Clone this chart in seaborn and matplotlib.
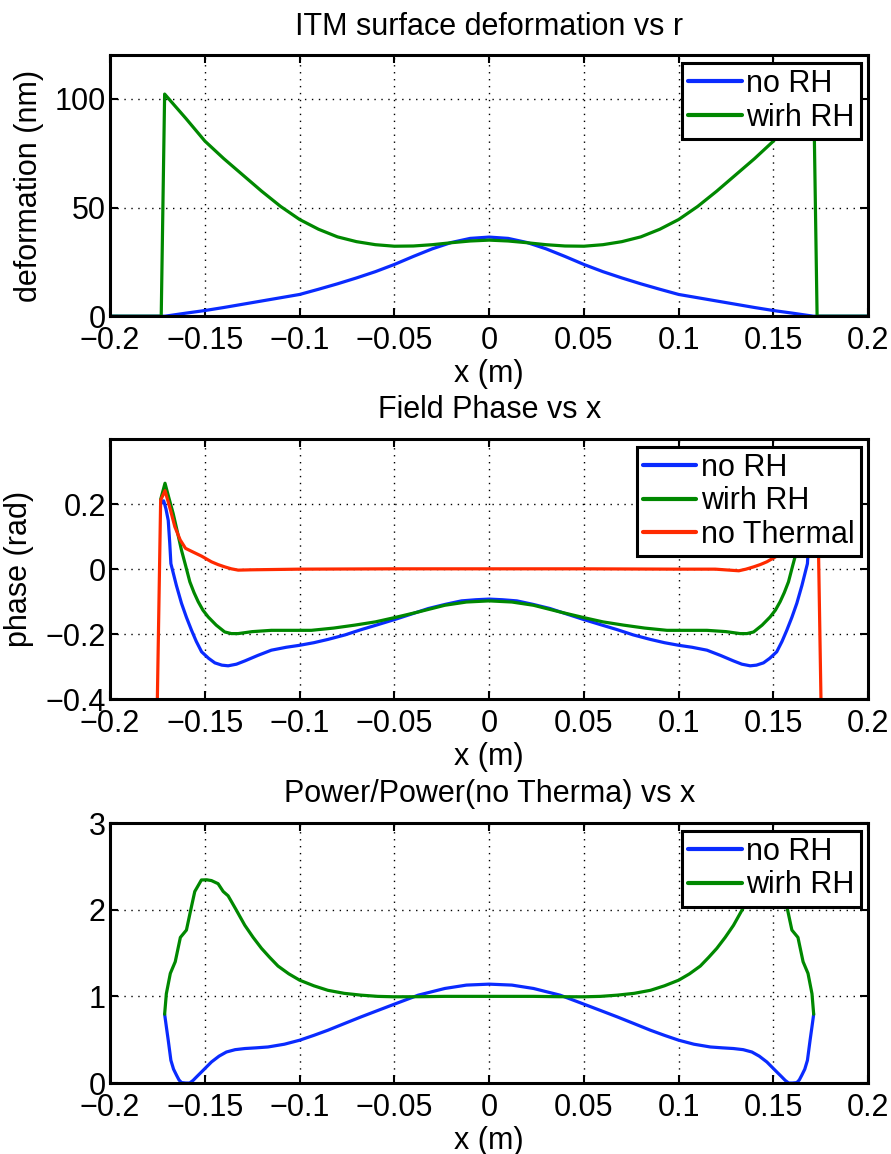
import numpy as np
import pandas as pd
import matplotlib
matplotlib.use("Agg")
import matplotlib.pyplot as plt
import seaborn as sns

# ---- data (x in m) ----
# panel 1: ITM surface deformation (nm)
def_norh_x = [-0.2, -0.171, -0.16, -0.15, -0.14, -0.13, -0.12, -0.11, -0.1, -0.09, -0.08, -0.07,
              -0.06, -0.05, -0.04, -0.03, -0.02, -0.01, 0.0,
              0.01, 0.02, 0.03, 0.04, 0.05, 0.06, 0.07, 0.08, 0.09, 0.1, 0.11, 0.12,
              0.13, 0.14, 0.15, 0.16, 0.171, 0.2]
def_norh_y = [0.0, 0.0, 1.4, 2.6, 4.0, 5.5, 7.0, 8.5, 10.0, 12.4, 14.9, 17.6,
              20.5, 23.8, 27.5, 31.0, 33.9, 35.8, 36.4,
              35.8, 33.9, 31.0, 27.5, 23.8, 20.5, 17.6, 14.9, 12.4, 10.0, 8.5, 7.0,
              5.5, 4.0, 2.6, 1.4, 0.0, 0.0]
def_rh_x = [-0.2, -0.173, -0.1712, -0.16, -0.15, -0.14, -0.13, -0.12, -0.11, -0.1, -0.09, -0.08,
            -0.07, -0.06, -0.05, -0.04, -0.03, -0.02, -0.01, 0.0,
            0.01, 0.02, 0.03, 0.04, 0.05, 0.06, 0.07, 0.08, 0.09, 0.1, 0.11, 0.12,
            0.13, 0.14, 0.15, 0.16, 0.1712, 0.173, 0.2]
def_rh_y = [0.0, 0.0, 102.2, 91.0, 80.6, 72.5, 65.0, 57.5, 50.5, 44.5, 40.0, 36.5,
            34.3, 32.9, 32.2, 32.3, 32.9, 33.8, 34.6, 35.0,
            34.6, 33.8, 32.9, 32.3, 32.2, 32.9, 34.3, 36.5, 40.0, 44.5, 50.5, 57.5,
            65.0, 72.5, 80.6, 91.0, 102.2, 0.0, 0.0]

# panel 2: field phase (rad)
ph_norh_x = [-0.1733, -0.1717, -0.1705, -0.1693, -0.1685, -0.1679, -0.165, -0.1623, -0.1597, -0.157,
             -0.1545, -0.1517, -0.148, -0.1447, -0.141, -0.1377, -0.1333, -0.1289, -0.122, -0.1149,
             -0.107, -0.1, -0.0925, -0.0851, -0.076, -0.0676, -0.059, -0.05, -0.041, -0.0321,
             -0.023, -0.0146, -0.007, 0.0,
             0.007, 0.0146, 0.023, 0.0321, 0.041, 0.05, 0.059, 0.0676, 0.076, 0.0851,
             0.0925, 0.1, 0.107, 0.1149, 0.122, 0.1289, 0.1333, 0.1377, 0.141, 0.1447,
             0.148, 0.1517, 0.1545, 0.157, 0.1597, 0.1623, 0.165, 0.1679, 0.1685, 0.1693,
             0.1705, 0.1717, 0.1733]
ph_norh_y = [0.2, 0.21, 0.185, 0.15, 0.08, 0.017, -0.05, -0.105, -0.148, -0.188,
             -0.222, -0.254, -0.274, -0.288, -0.295, -0.297, -0.292, -0.282, -0.265, -0.249,
             -0.24, -0.234, -0.226, -0.216, -0.202, -0.186, -0.171, -0.155, -0.138, -0.121,
             -0.108, -0.0975, -0.094, -0.092,
             -0.094, -0.0975, -0.108, -0.121, -0.138, -0.155, -0.171, -0.186, -0.202, -0.216,
             -0.226, -0.234, -0.24, -0.249, -0.265, -0.282, -0.292, -0.297, -0.295, -0.288,
             -0.274, -0.254, -0.222, -0.188, -0.148, -0.105, -0.05, 0.017, 0.08, 0.15,
             0.185, 0.21, 0.2]
ph_rh_x = [-0.1733, -0.171, -0.169, -0.1667, -0.1645, -0.1623, -0.16, -0.1579, -0.1557, -0.1535,
           -0.151, -0.1482, -0.144, -0.1395, -0.136, -0.1324, -0.125, -0.1149, -0.105, -0.0938,
           -0.082, -0.0709, -0.06, -0.05, -0.037, -0.0234, -0.012, 0.0,
           0.012, 0.0234, 0.037, 0.05, 0.06, 0.0709, 0.082, 0.0938, 0.105, 0.1149,
           0.125, 0.1324, 0.136, 0.1395, 0.144, 0.1482, 0.151, 0.1535, 0.1557, 0.1579,
           0.16, 0.1623, 0.1645, 0.1667, 0.169, 0.171, 0.1733]
ph_rh_y = [0.214, 0.264, 0.22, 0.171, 0.115, 0.058, 0.008, -0.039, -0.072, -0.1,
           -0.126, -0.147, -0.172, -0.193, -0.198, -0.198, -0.192, -0.188, -0.188, -0.188,
           -0.181, -0.172, -0.162, -0.149, -0.131, -0.111, -0.101, -0.0975,
           -0.101, -0.111, -0.131, -0.149, -0.162, -0.172, -0.181, -0.188, -0.188, -0.188,
           -0.192, -0.198, -0.198, -0.193, -0.172, -0.147, -0.126, -0.1, -0.072, -0.039,
           0.008, 0.058, 0.115, 0.171, 0.22, 0.264, 0.214]
ph_noth_x = [-0.1751, -0.1733, -0.171, -0.1685, -0.1658, -0.163, -0.1602, -0.156, -0.1517, -0.1465,
             -0.143, -0.1395, -0.136, -0.1324, -0.1254, -0.1, -0.05, 0.0,
             0.05, 0.1, 0.1193, 0.1317, 0.1355, 0.1395, 0.143, 0.1465, 0.1517, 0.156,
             0.1602, 0.163, 0.1658, 0.1685, 0.171, 0.1733, 0.1751]
ph_noth_y = [-0.42, 0.212, 0.241, 0.19, 0.13, 0.09, 0.064, 0.052, 0.04, 0.0226,
             0.014, 0.007, 0.001, -0.003, -0.002, 0.0, 0.001, 0.001,
             0.001, 0.0, 0.0, -0.005, 0.0, 0.007, 0.014, 0.0226, 0.04, 0.052,
             0.064, 0.09, 0.13, 0.19, 0.241, 0.212, -0.42]

# panel 3: power ratio
pw_norh_x = [-0.1712, -0.1703, -0.1693, -0.1679, -0.1665, -0.1649, -0.1636, -0.1623, -0.16, -0.158,
             -0.1562, -0.1544, -0.1505, -0.1465, -0.1425, -0.1386, -0.134, -0.1289, -0.123, -0.1167,
             -0.108, -0.1, -0.0925, -0.0851, -0.0765, -0.0676, -0.059, -0.05, -0.0374, -0.0234,
             -0.012, 0.0,
             0.012, 0.0234, 0.0374, 0.05, 0.059, 0.0676, 0.0765, 0.0851, 0.0925, 0.1,
             0.108, 0.1167, 0.123, 0.1289, 0.134, 0.1386, 0.1425, 0.1465, 0.1505, 0.1544,
             0.1562, 0.158, 0.16, 0.1623, 0.1636, 0.1649, 0.1665, 0.1679, 0.1693, 0.1703, 0.1712]
pw_norh_y = [0.794, 0.65, 0.494, 0.262, 0.16, 0.089, 0.035, 0.005, 0.0, 0.0,
             0.03, 0.07, 0.155, 0.243, 0.31, 0.358, 0.385, 0.398, 0.406, 0.416,
             0.448, 0.494, 0.55, 0.609, 0.685, 0.763, 0.835, 0.91, 1.014, 1.091,
             1.13, 1.141,
             1.13, 1.091, 1.014, 0.91, 0.835, 0.763, 0.685, 0.609, 0.55, 0.494,
             0.448, 0.416, 0.406, 0.398, 0.385, 0.358, 0.31, 0.243, 0.155, 0.07,
             0.03, 0.0, 0.0, 0.005, 0.035, 0.089, 0.16, 0.262, 0.494, 0.65, 0.794]
pw_rh_x = [-0.1712, -0.1703, -0.1682, -0.1656, -0.1629, -0.1597, -0.1575, -0.1553, -0.1518, -0.149,
           -0.1465, -0.143, -0.1403, -0.1377, -0.1335, -0.1289, -0.1245, -0.1201, -0.1158, -0.1114,
           -0.1057, -0.1, -0.0925, -0.0851, -0.0765, -0.0676, -0.0588, -0.05, -0.037, -0.0234, 0.0,
           0.0234, 0.037, 0.05, 0.0588, 0.0676, 0.0765, 0.0851, 0.0925, 0.1, 0.1057,
           0.1114, 0.1158, 0.1201, 0.1245, 0.1289, 0.1335, 0.1377, 0.1403, 0.143, 0.1465,
           0.149, 0.1518, 0.1553, 0.1575, 0.1597, 0.1629, 0.1656, 0.1682, 0.1703, 0.1712]
pw_rh_y = [0.794, 1.03, 1.265, 1.4, 1.68, 1.765, 1.99, 2.21, 2.343, 2.345,
           2.336, 2.3, 2.21, 2.16, 2.0, 1.82, 1.68, 1.554, 1.45, 1.35,
           1.26, 1.187, 1.122, 1.07, 1.035, 1.014, 1.0, 0.995, 0.996, 1.0, 1.0,
           1.0, 0.996, 0.995, 1.0, 1.014, 1.035, 1.07, 1.122, 1.187, 1.26,
           1.35, 1.45, 1.554, 1.68, 1.82, 2.0, 2.16, 2.21, 2.3, 2.336,
           2.345, 2.343, 2.21, 1.99, 1.765, 1.68, 1.4, 1.265, 1.03, 0.794]

x_ticks = [-0.2, -0.15, -0.1, -0.05, 0, 0.05, 0.1, 0.15, 0.2]
x_tick_labels = ["\u22120.2", "\u22120.15", "\u22120.1", "\u22120.05", "0", "0.05", "0.1", "0.15", "0.2"]
def_ticks = [0, 50, 100]
ph_ticks = [-0.4, -0.2, 0, 0.2]
ph_tick_labels = ["\u22120.4", "\u22120.2", "0", "0.2"]
pw_ticks = [0, 1, 2, 3]

BLUE = "#0a2bff"
GREEN = "#008800"
RED = "#ff2a00"

sns.set_theme(style="white")
plt.rcParams["font.family"] = ["Liberation Sans", "DejaVu Sans"]
plt.rcParams["text.color"] = "black"
plt.rcParams["axes.labelcolor"] = "black"

FS = 22
fig = plt.figure(figsize=(8.91, 11.54), dpi=100)
fig.patch.set_facecolor("white")


def style_axes(ax, yticks, ylabels, ylim, title, ylabel=None):
    ax.set_xlim(-0.2, 0.2)
    ax.set_ylim(*ylim)
    ax.set_xticks(x_ticks)
    ax.set_xticklabels(x_tick_labels)
    ax.set_yticks(yticks)
    ax.set_yticklabels(ylabels)
    ax.tick_params(axis="both", direction="in", length=6, width=1.5, colors="black",
                   labelsize=FS, top=True, right=True, bottom=True, left=True)
    ax.tick_params(axis="x", pad=7)
    ax.tick_params(axis="y", pad=3)
    ax.grid(True, color="black", linestyle=(0, (1, 4)), linewidth=1.0)
    for sp in ax.spines.values():
        sp.set_visible(True)
        sp.set_color("black")
        sp.set_linewidth(2.2)
    ax.set_title(title, fontsize=FS, pad=15, color="black")
    ax.set_xlabel("x (m)", fontsize=FS, labelpad=2, color="black")
    if ylabel:
        ax.set_ylabel(ylabel, fontsize=FS, labelpad=8, color="black")
    else:
        ax.set_ylabel("")
    leg = ax.legend(loc="upper right", fontsize=FS, frameon=True, fancybox=False,
                    framealpha=1, edgecolor="black", borderpad=0.2, labelspacing=0.12,
                    handlelength=1.75, handletextpad=0.15, borderaxespad=0.25)
    leg.get_frame().set_linewidth(2.2)
    for t in leg.get_texts():
        t.set_color("black")
    for h in leg.get_lines():
        h.set_linewidth(3)


LW = 2.3

# --- top: deformation ---
ax1 = fig.add_axes([0.1235, 0.726, 0.851, 0.226])
sns.lineplot(x=def_norh_x, y=def_norh_y, ax=ax1, color=BLUE, lw=LW, sort=False,
             estimator=None, label="no RH")
sns.lineplot(x=def_rh_x, y=def_rh_y, ax=ax1, color=GREEN, lw=LW, sort=False,
             estimator=None, label="wirh RH")
style_axes(ax1, def_ticks, [str(t) for t in def_ticks], (0, 120),
           "ITM surface deformation vs r", "deformation (nm)")

# --- middle: phase ---
ax2 = fig.add_axes([0.1235, 0.394, 0.851, 0.2256])
sns.lineplot(x=ph_norh_x, y=ph_norh_y, ax=ax2, color=BLUE, lw=LW, sort=False,
             estimator=None, label="no RH")
sns.lineplot(x=ph_rh_x, y=ph_rh_y, ax=ax2, color=GREEN, lw=LW, sort=False,
             estimator=None, label="wirh RH")
sns.lineplot(x=ph_noth_x, y=ph_noth_y, ax=ax2, color=RED, lw=LW, sort=False,
             estimator=None, label="no Thermal")
style_axes(ax2, ph_ticks, ph_tick_labels, (-0.4, 0.4), "Field Phase vs x", "phase (rad)")

# --- bottom: power ratio ---
ax3 = fig.add_axes([0.1235, 0.0615, 0.851, 0.2253])
sns.lineplot(x=pw_norh_x, y=pw_norh_y, ax=ax3, color=BLUE, lw=LW, sort=False,
             estimator=None, label="no RH")
sns.lineplot(x=pw_rh_x, y=pw_rh_y, ax=ax3, color=GREEN, lw=LW, sort=False,
             estimator=None, label="wirh RH")
style_axes(ax3, pw_ticks, [str(t) for t in pw_ticks], (0, 3), "Power/Power(no Therma) vs x")

fig.savefig("out.png", dpi=100, facecolor="white")
